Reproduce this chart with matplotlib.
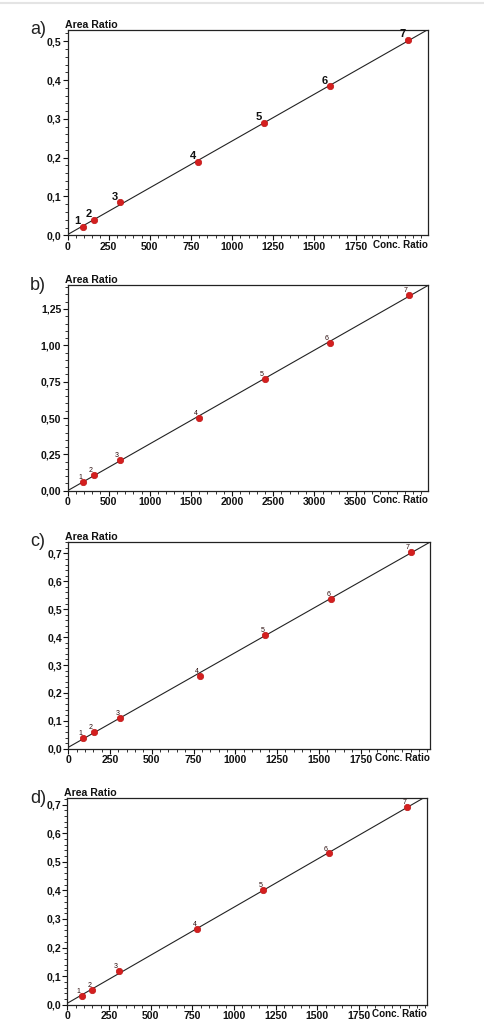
import numpy as np
import matplotlib
matplotlib.use("Agg")
import matplotlib.pyplot as plt
from matplotlib.ticker import MultipleLocator, FuncFormatter
from matplotlib.lines import Line2D

plt.rcParams["font.family"] = ["Liberation Sans", "DejaVu Sans"]

# calibration points (conc. ratio, area ratio)
labels = ["1", "2", "3", "4", "5", "6", "7"]

conc_a = [92, 158, 316, 793, 1195, 1592, 2066]
area_a = [0.0215, 0.0395, 0.085, 0.189, 0.289, 0.384, 0.503]

conc_b = [190, 320, 632, 1595, 2396, 3188, 4150]
area_b = [0.0596, 0.110, 0.209, 0.502, 0.771, 1.018, 1.349]

conc_c = [90, 154, 312, 786, 1180, 1576, 2052]
area_c = [0.0382, 0.061, 0.111, 0.262, 0.407, 0.538, 0.706]

conc_d = [86, 150, 308, 781, 1176, 1570, 2041]
area_d = [0.0306, 0.0518, 0.1176, 0.266, 0.401, 0.529, 0.692]

panels = [
    # tag, x, y, xlim, ylim, x major/minor, last x tick, y major/minor, y decimals, axes rect (px), big labels
    ("a)", conc_a, area_a, 2190, 0.529, 250, 50, 1750, 0.1, 0.02, 1, (67.5, 30.0, 428.0, 235.3), True),
    ("b)", conc_b, area_b, 4380, 1.415, 500, 100, 3500, 0.25, 0.05, 2, (67.5, 285.0, 428.0, 490.7), False),
    ("c)", conc_c, area_c, 2166, 0.742, 250, 50, 1750, 0.1, 0.02, 1, (68.3, 541.7, 430.0, 748.7), False),
    ("d)", conc_d, area_d, 2161, 0.722, 250, 50, 1750, 0.1, 0.02, 1, (67.3, 798.3, 427.3, 1004.7), False),
]

W, H = 485, 1032
fig = plt.figure(figsize=(W / 100, H / 100), dpi=100)

# faint rule across the very top
fig.add_artist(Line2D([0, 1], [1 - 2.7 / H] * 2, color="#e4e4e4", lw=1.5,
                      transform=fig.transFigure))

for tag, xs, ys, xmax, ymax, xmaj, xmin, xlast, ymaj, ymin, dec, (l, t, r, b), big in panels:
    ax = fig.add_axes([l / W, 1 - b / H, (r - l) / W, (b - t) / H])
    xs = np.array(xs, float)
    ys = np.array(ys, float)

    k, c0 = np.polyfit(xs, ys, 1)
    xx = np.array([0, xmax * 1.05])
    ax.plot(xx, k * xx + c0, color="#222", lw=0.8, zorder=2)
    ax.plot(xs, ys, "o", color="#d41f1f", ms=4.6, mec="#c01818", mew=0.5, zorder=3)

    for lab, x0, y0 in zip(labels, xs, ys):
        if big:
            ax.annotate(lab, (x0, y0), xytext=(-1.5, 0.5), textcoords="offset points",
                        ha="right", va="bottom", fontsize=8, weight="bold", color="#111")
        else:
            ax.annotate(lab, (x0, y0), xytext=(-0.8, 0.6), textcoords="offset points",
                        ha="right", va="bottom", fontsize=5, color="#2a0c0c")

    ax.set_xlim(0, xmax)
    ax.set_ylim(0, ymax)
    ax.set_xticks(np.arange(0, xlast + 1, xmaj))
    ax.xaxis.set_minor_locator(MultipleLocator(xmin))
    ax.yaxis.set_major_locator(MultipleLocator(ymaj))
    ax.yaxis.set_minor_locator(MultipleLocator(ymin))
    ax.yaxis.set_major_formatter(FuncFormatter(
        lambda v, p, d=dec: f"{v:.{d}f}".replace(".", ",")))
    ax.xaxis.set_major_formatter(FuncFormatter(lambda v, p: f"{v:.0f}"))

    ax.tick_params(which="major", direction="out", length=3.5, width=0.8,
                   labelsize=7.6, pad=1, color="#111")
    ax.tick_params(which="minor", direction="out", length=2, width=0.6, color="#111")
    for tl in ax.get_xticklabels() + ax.get_yticklabels():
        tl.set_fontweight("bold")
        tl.set_color("#111")
    for s in ax.spines.values():
        s.set_linewidth(0.9)
        s.set_color("#222")

    ax.text(-0.008, 1.0, "Area Ratio", transform=ax.transAxes, ha="left", va="bottom",
            fontsize=7.6, weight="bold", color="#111")
    ax.text(1.0, -0.022, "Conc. Ratio", transform=ax.transAxes, ha="right", va="top",
            fontsize=7.1, weight="bold", color="#111")
    fig.text(30 / W, 1 - (t + 0) / H, tag, ha="left", va="center", fontsize=13,
             color="#222")

fig.savefig("out.png", dpi=100)
